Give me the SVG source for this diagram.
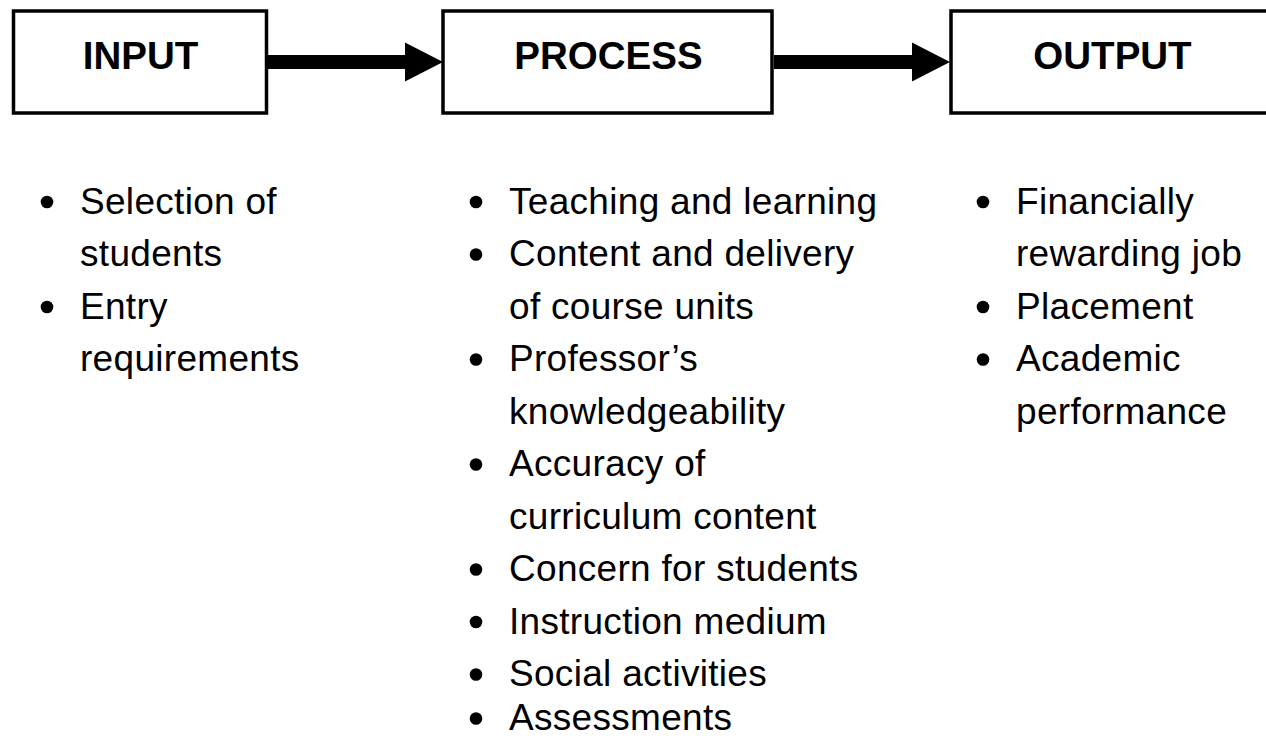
<svg xmlns="http://www.w3.org/2000/svg" width="1266" height="738" viewBox="0 0 1266 738">
<style>
.box{fill:#fff;stroke:#000;stroke-width:3.5}
.title{font-family:"Liberation Sans",Arial,sans-serif;font-weight:bold;font-size:38.5px;fill:#000;text-anchor:middle}
.item{font-family:"Liberation Sans",Arial,sans-serif;font-size:37px;fill:#000;letter-spacing:0.3px}
.arrow{fill:#000}
.dot{fill:#000}
</style>
<rect x="0" y="0" width="1266" height="738" fill="#fff"/>
<g id="input">
<rect class="box" x="13.5" y="11" width="253" height="102"/>
<text class="title" x="140.5" y="68.5">INPUT</text>
</g>
<g id="process">
<rect class="box" x="443" y="11" width="329" height="102"/>
<text class="title" x="608.5" y="68.5">PROCESS</text>
</g>
<g id="output">
<rect class="box" x="951" y="11" width="330" height="102"/>
<text class="title" x="1112.5" y="68.5">OUTPUT</text>
</g>
<g id="connectors">
<polygon class="arrow" points="268,55 405,55 405,42.5 443,62 405,81.5 405,69 268,69"/>
<polygon class="arrow" points="774,55 912,55 912,42.5 950,62 912,81.5 912,69 774,69"/>
</g>
<g id="input-list">
<circle class="dot" cx="47" cy="202" r="6.3"/>
<text class="item" x="80" y="213.5">Selection of</text>
<text class="item" x="80" y="266">students</text>
<circle class="dot" cx="47" cy="307" r="6.3"/>
<text class="item" x="80" y="318.5">Entry</text>
<text class="item" x="80" y="371">requirements</text>
</g>
<g id="process-list">
<circle class="dot" cx="476" cy="202" r="6.3"/>
<text class="item" x="509" y="213.5">Teaching and learning</text>
<circle class="dot" cx="476" cy="254.5" r="6.3"/>
<text class="item" x="509" y="266">Content and delivery</text>
<text class="item" x="509" y="318.5">of course units</text>
<circle class="dot" cx="476" cy="359.5" r="6.3"/>
<text class="item" x="509" y="371">Professor’s</text>
<text class="item" x="509" y="423.5">knowledgeability</text>
<circle class="dot" cx="476" cy="464.5" r="6.3"/>
<text class="item" x="509" y="476">Accuracy of</text>
<text class="item" x="509" y="528.5">curriculum content</text>
<circle class="dot" cx="476" cy="569.5" r="6.3"/>
<text class="item" x="509" y="581">Concern for students</text>
<circle class="dot" cx="476" cy="622" r="6.3"/>
<text class="item" x="509" y="633.5">Instruction medium</text>
<circle class="dot" cx="476" cy="674.5" r="6.3"/>
<text class="item" x="509" y="686">Social activities</text>
<circle class="dot" cx="476" cy="718.5" r="6.3"/>
<text class="item" x="509" y="730">Assessments</text>
</g>
<g id="output-list">
<circle class="dot" cx="983" cy="202" r="6.3"/>
<text class="item" x="1016" y="213.5">Financially</text>
<text class="item" x="1016" y="266">rewarding job</text>
<circle class="dot" cx="983" cy="307" r="6.3"/>
<text class="item" x="1016" y="318.5">Placement</text>
<circle class="dot" cx="983" cy="359.5" r="6.3"/>
<text class="item" x="1016" y="371">Academic</text>
<text class="item" x="1016" y="423.5">performance</text>
</g>
</svg>
